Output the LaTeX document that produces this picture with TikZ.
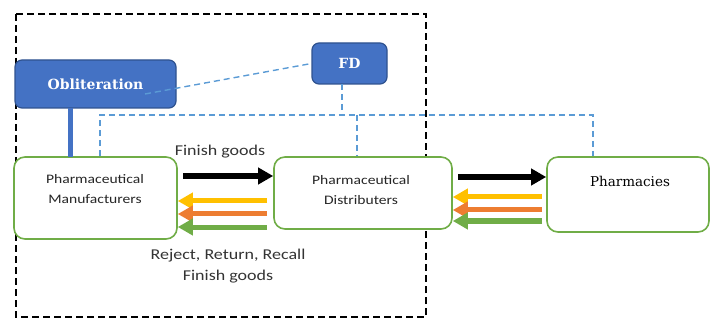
\documentclass[tikz,border=0pt]{standalone}
\usepackage{fontspec}
\setmainfont{DejaVu Serif}
\newfontfamily\lblfont[FakeStretch=1.2]{Carlito}
\usetikzlibrary{arrows.meta}
\definecolor{obblue}{HTML}{4472C4}
\definecolor{obedge}{HTML}{2F528F}
\definecolor{dblue}{HTML}{5B9BD5}
\definecolor{gbox}{HTML}{70AD47}
\definecolor{ayel}{HTML}{FFC000}
\definecolor{aora}{HTML}{ED7D31}
\definecolor{agrn}{HTML}{70AD47}
\begin{document}
\begin{tikzpicture}[x=1pt,y=-1pt,
  bluebox/.style={draw=obedge,line width=1.2pt,fill=obblue,rounded corners=7pt,text=white,font=\bfseries\fontsize{14}{16}\selectfont},
  greenbox/.style={draw=gbox,line width=1.6pt,rounded corners=11pt,fill=white},
  bdash/.style={draw=dblue,line width=1.4pt,dash pattern=on 6pt off 4pt},
  bigarrow/.style={line width=#1,-{Triangle[length=15pt,width=16pt]}},
  lbl/.style={font=\lblfont\fontsize{15}{21}\selectfont,text=black!80,align=center},
  boxtxt/.style={font=\lblfont\fontsize{13}{20}\selectfont,text=black!85,align=center}]
\useasboundingbox (0,0) rectangle (711,320);
\draw[line width=1.6pt,dash pattern=on 7pt off 4pt] (16,14) rectangle (426,317);
% blue boxes
\node[bluebox,minimum width=161pt,minimum height=48pt] (ob) at (95.5,84) {Obliteration};
\node[bluebox,minimum width=75pt,minimum height=41pt] (fd) at (349.5,63.5) {FD};
% green boxes
\node[greenbox,minimum width=163pt,minimum height=82pt] (man) at (95.5,198) {};
\node[greenbox,minimum width=178pt,minimum height=72pt] (dis) at (363,193) {};
\node[greenbox,minimum width=162pt,minimum height=75pt] (ph) at (628,194.5) {};
\node[boxtxt] (mant) at (95,189) {Pharmaceutical\\Manufacturers};
\node[boxtxt] (dist) at (361,190.5) {Pharmaceutical\\Distributers};
\node[font=\fontsize{13.5}{16}\selectfont] (pht) at (630,181) {Pharmacies};
% dashed blue connectors
\coordinate (obx) at (145,94);
\coordinate (fdb) at (342,84);
\coordinate (fdc) at (342,115);
\coordinate (hl) at (100,115);
\coordinate (hm) at (357,115);
\coordinate (hr) at (593,115);
\draw[bdash] (obx) -- (fd.west);
\draw[bdash] (fdb) -- (fdc);
\draw[bdash] (hl |- man.north) -- (hl) -- (hr) -- (hr |- ph.north);
\draw[bdash] (hm) -- (hm |- dis.north);
\draw[obblue,line width=5pt] (70,108) -- (70,157);
% arrows man <-> dis
\coordinate (a1s) at (183,176);
\draw[bigarrow=5.5pt,black] (a1s) -- (a1s -| dis.west);
\coordinate (y1) at (267,201);
\coordinate (o1) at (267,214);
\coordinate (g1) at (267,227);
\draw[bigarrow=5pt,ayel] (y1) -- (y1 -| man.east);
\draw[bigarrow=5pt,aora] (o1) -- (o1 -| man.east);
\draw[bigarrow=5pt,agrn] (g1) -- (g1 -| man.east);
% arrows dis <-> ph
\coordinate (a2s) at (458,177);
\draw[bigarrow=5.5pt,black] (a2s) -- (a2s -| ph.west);
\coordinate (y2) at (542,197);
\coordinate (o2) at (542,210);
\coordinate (g2) at (542,221);
\draw[bigarrow=5pt,ayel] (y2) -- (y2 -| dis.east);
\draw[bigarrow=5pt,aora] (o2) -- (o2 -| dis.east);
\draw[bigarrow=5pt,agrn] (g2) -- (g2 -| dis.east);
% labels
\node[lbl] (fg) at (220,152) {Finish goods};
\node[lbl] (rr) at (228,256) {Reject, Return, Recall};
\node[lbl] (fg2) at (228,277) {Finish goods};
\end{tikzpicture}
\end{document}
